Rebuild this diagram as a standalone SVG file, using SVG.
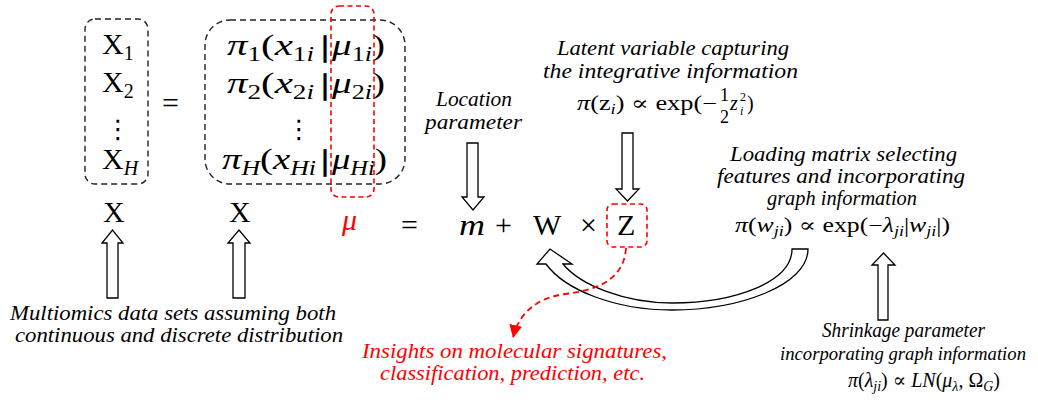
<svg xmlns="http://www.w3.org/2000/svg" width="1038" height="405" viewBox="0 0 1038 405">
<style>
.m{font-family:"Liberation Serif","DejaVu Serif",serif;font-size:30px;fill:#000}
.it{font-style:italic}
.s{font-size:20px}
.lbl{font-family:"Liberation Serif","DejaVu Serif",serif;font-style:italic;font-size:20px;fill:#000}
.red{fill:#ff0000}
.bar{stroke:#000;stroke-width:1.6}
.dbox{fill:none;stroke:#222;stroke-width:1.4;stroke-dasharray:6,4}
.rbox{fill:none;stroke:#ff0000;stroke-width:1.6;stroke-dasharray:5,3.5}
.blk{fill:#fff;stroke:#000;stroke-width:1.3;stroke-linejoin:miter}
.dots{font-family:"DejaVu Sans",sans-serif;font-size:26px;fill:#000}
</style>
<defs>
<marker id="redHead" viewBox="0 0 10 10" refX="10" refY="5" markerWidth="13" markerHeight="13" markerUnits="userSpaceOnUse" orient="auto">
<path d="M0,0 L10,5 L0,10 z" fill="#ff0000"/>
</marker>
</defs>

<g id="data-column">
<rect class="dbox" x="85" y="19" width="63" height="165" rx="10"/>
<text class="m" x="102" y="54">X<tspan class="s" dy="6">1</tspan></text>
<text class="m" x="102" y="92">X<tspan class="s" dy="6">2</tspan></text>
<text class="dots" x="105" y="138">⋮</text>
<text class="m" x="102" y="169">X<tspan class="s it" dy="6">H</tspan></text>
</g>

<text class="m" x="162" y="113">=</text>

<g id="distribution-column">
<rect class="dbox" x="205" y="20" width="200" height="164" rx="25"/>
<text class="m" x="227" y="55" textLength="87" lengthAdjust="spacingAndGlyphs"><tspan class="it">π</tspan><tspan class="s" dy="6">1</tspan><tspan dy="-6">(</tspan><tspan class="it">x</tspan><tspan class="s" dy="6">1<tspan class="it">i</tspan></tspan></text>
<text class="m bar" x="322" y="56">|</text>
<text class="m" x="332" y="55" textLength="53" lengthAdjust="spacingAndGlyphs"><tspan class="it">μ</tspan><tspan class="s" dy="6">1<tspan class="it">i</tspan></tspan><tspan dy="-6">)</tspan></text>

<text class="m" x="227" y="93" textLength="87" lengthAdjust="spacingAndGlyphs"><tspan class="it">π</tspan><tspan class="s" dy="6">2</tspan><tspan dy="-6">(</tspan><tspan class="it">x</tspan><tspan class="s" dy="6">2<tspan class="it">i</tspan></tspan></text>
<text class="m bar" x="322" y="94">|</text>
<text class="m" x="332" y="93" textLength="53" lengthAdjust="spacingAndGlyphs"><tspan class="it">μ</tspan><tspan class="s" dy="6">2<tspan class="it">i</tspan></tspan><tspan dy="-6">)</tspan></text>

<text class="dots" x="286" y="138">⋮</text>

<text class="m" x="222" y="169" textLength="94" lengthAdjust="spacingAndGlyphs"><tspan class="it">π</tspan><tspan class="s it" dy="6">H</tspan><tspan dy="-6">(</tspan><tspan class="it">x</tspan><tspan class="s it" dy="6">Hi</tspan></text>
<text class="m bar" x="322" y="170">|</text>
<text class="m" x="332" y="169" textLength="55" lengthAdjust="spacingAndGlyphs"><tspan class="it">μ</tspan><tspan class="s it" dy="6">Hi</tspan><tspan dy="-6">)</tspan></text>
<rect class="rbox" x="331" y="6" width="43" height="191" rx="8"/>
</g>

<g id="model-equation">
<text class="m" x="103" y="222">X</text>
<text class="m" x="229" y="222">X</text>
<text class="m it red" x="342" y="230">μ</text>
<text class="m" x="401" y="235">=</text>
<text class="m it" x="459" y="235" textLength="26" lengthAdjust="spacingAndGlyphs">m</text>
<text class="m" x="495" y="235">+</text>
<text class="m" x="533" y="235">W</text>
<text class="m" x="580" y="235">×</text>
<text class="m" x="617" y="235">Z</text>
<rect class="rbox" x="607" y="204" width="40" height="43" rx="6"/>
</g>

<g id="location-label">
<text class="lbl" x="436" y="106" textLength="76" lengthAdjust="spacingAndGlyphs">Location</text>
<text class="lbl" x="425" y="129" textLength="97" lengthAdjust="spacingAndGlyphs">parameter</text>
</g>

<g id="latent-label">
<text class="lbl" x="557" y="55" textLength="232" lengthAdjust="spacingAndGlyphs">Latent variable capturing</text>
<text class="lbl" x="543" y="78" textLength="255" lengthAdjust="spacingAndGlyphs">the integrative information</text>
<text class="m" x="577" y="110" textLength="140" lengthAdjust="spacingAndGlyphs" style="font-size:20px"><tspan class="it">π</tspan>(z<tspan class="it" style="font-size:14px" dy="4">i</tspan><tspan dy="-4">) ∝ exp(−</tspan></text>
<text class="m" x="720" y="101" style="font-size:18px">1</text>
<text class="m" x="720" y="123" style="font-size:18px">2</text>
<text class="m it" x="730" y="110" style="font-size:20px">z</text>
<text class="m it" x="740" y="115" style="font-size:12px">i</text>
<text class="m" x="740" y="101" style="font-size:12px">2</text>
<text class="m" x="747" y="110" style="font-size:20px">)</text>
</g>

<g id="loading-label">
<text class="lbl" x="730" y="161" textLength="227" lengthAdjust="spacingAndGlyphs">Loading matrix selecting</text>
<text class="lbl" x="717" y="183" textLength="248" lengthAdjust="spacingAndGlyphs">features and incorporating</text>
<text class="lbl" x="767" y="205" textLength="150" lengthAdjust="spacingAndGlyphs">graph information</text>
<text class="m" x="735" y="232" textLength="215" lengthAdjust="spacingAndGlyphs" style="font-size:20px"><tspan class="it">π</tspan>(<tspan class="it">w</tspan><tspan class="it" style="font-size:14px" dy="4">ji</tspan><tspan dy="-4">) ∝ exp(−</tspan><tspan class="it">λ</tspan><tspan class="it" style="font-size:14px" dy="4">ji</tspan><tspan dy="-4">|</tspan><tspan class="it">w</tspan><tspan class="it" style="font-size:14px" dy="4">ji</tspan><tspan dy="-4">|)</tspan></text>
</g>

<g id="shrinkage-label">
<text class="lbl" x="822" y="337" textLength="163" lengthAdjust="spacingAndGlyphs">Shrinkage parameter</text>
<text class="lbl" x="780" y="360" textLength="246" lengthAdjust="spacingAndGlyphs" style="font-size:19px">incorporating graph information</text>
<text class="m" x="848" y="387" textLength="152" lengthAdjust="spacingAndGlyphs" style="font-size:20px"><tspan class="it">π</tspan>(<tspan class="it">λ</tspan><tspan class="it" style="font-size:14px" dy="4">ji</tspan><tspan dy="-4">) ∝ </tspan><tspan class="it">LN</tspan>(<tspan class="it">μ</tspan><tspan class="it" style="font-size:14px" dy="4">λ</tspan><tspan dy="-4">, Ω</tspan><tspan class="it" style="font-size:14px" dy="4">G</tspan><tspan dy="-4">)</tspan></text>
</g>

<g id="multiomics-label">
<text class="lbl" x="10" y="320" textLength="326" lengthAdjust="spacingAndGlyphs">Multiomics data sets assuming both</text>
<text class="lbl" x="15" y="342" textLength="328" lengthAdjust="spacingAndGlyphs">continuous and discrete distribution</text>
</g>

<g id="insights-label">
<text class="lbl red" x="362" y="358" textLength="305" lengthAdjust="spacingAndGlyphs">Insights on molecular signatures,</text>
<text class="lbl red" x="380" y="380" textLength="265" lengthAdjust="spacingAndGlyphs">classification, prediction, etc.</text>
</g>

<g id="connectors">
<polygon class="blk" points="467,143 478,143 478,197 484,197 473,210 462,197 467,197"/>
<polygon class="blk" points="622,133 633,133 633,189 639,189 627.5,201 616,189 622,189"/>
<polygon class="blk" points="107,298 118,298 118,243 123,243 112.5,230 102,243 107,243"/>
<polygon class="blk" points="233,298 245,298 245,243 250,243 239,230 228,243 233,243"/>
<polygon class="blk" points="878,320 888,320 888,265 895,265 883.5,253 872,265 878,265"/>
<path class="blk" d="M808,249 C808,285 740,310 672,310 C615,310 565,290 546,264 L537,264 L550,249 L572,264 L563,264 C580,285 625,303 672,303 C735,303 792,282 792,249 Z"/>
<path d="M626,248 C624,278 600,290 565,294 C535,298 518,315 513,338" fill="none" stroke="#ff0000" stroke-width="1.8" stroke-dasharray="6,4" marker-end="url(#redHead)"/>
</g>
</svg>
